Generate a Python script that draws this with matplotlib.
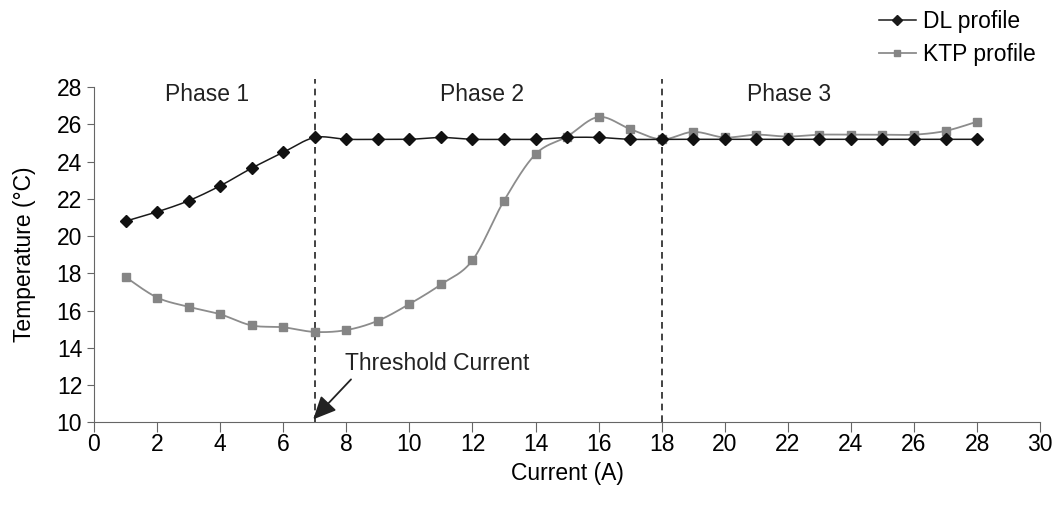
import numpy as np
import matplotlib
matplotlib.use("Agg")
import matplotlib.pyplot as plt
from matplotlib.lines import Line2D

plt.rcParams['font.family'] = ['Liberation Sans', 'DejaVu Sans']

current = np.arange(1, 29)
dl_temp = [20.8, 21.3, 21.9, 22.7, 23.65, 24.5, 25.3, 25.2, 25.2, 25.2,
           25.3, 25.2, 25.2, 25.2, 25.3, 25.3, 25.2, 25.2, 25.2, 25.2,
           25.2, 25.2, 25.2, 25.2, 25.2, 25.2, 25.2, 25.2]
ktp_temp = [17.8, 16.7, 16.2, 15.8, 15.2, 15.1, 14.85, 14.95, 15.45, 16.35,
            17.4, 18.7, 21.9, 24.4, 25.35, 26.4, 25.75, 25.2, 25.6, 25.3,
            25.45, 25.35, 25.45, 25.45, 25.45, 25.45, 25.65, 26.15]
phase_bounds = [7, 18]
phase_names = ["Phase 1", "Phase 2", "Phase 3"]
phase_label_x = [3.6, 12.3, 22.05]

FS = 16.5


def smooth(x, y, n=30):
    # Bezier smoothing through the points, like a spreadsheet "smoothed line"
    x = np.asarray(x, float)
    y = np.asarray(y, float)
    xs, ys = [], []
    for i in range(len(x) - 1):
        p0 = np.array([x[i - 1], y[i - 1]]) if i > 0 else np.array([x[i], y[i]])
        p1 = np.array([x[i], y[i]])
        p2 = np.array([x[i + 1], y[i + 1]])
        p3 = np.array([x[i + 2], y[i + 2]]) if i + 2 < len(x) else p2
        c1 = p1 + (p2 - p0) / 6
        c2 = p2 - (p3 - p1) / 6
        t = np.linspace(0, 1, n)[:, None]
        pts = ((1 - t) ** 3) * p1 + 3 * ((1 - t) ** 2) * t * c1 + 3 * (1 - t) * t ** 2 * c2 + t ** 3 * p2
        xs.extend(pts[:, 0])
        ys.extend(pts[:, 1])
    return np.array(xs), np.array(ys)


fig = plt.figure(figsize=(10.56, 5.13), dpi=100)
ax = fig.add_axes([0.089, 0.177, 0.896, 0.653])

kx, ky = smooth(current, ktp_temp)
ax.plot(kx, ky, color="#8c8c8c", lw=1.3, zorder=2)
ax.plot(current, ktp_temp, ls="none", marker="s", ms=6, color="#858585", zorder=3)

dx, dy = smooth(current, dl_temp)
ax.plot(dx, dy, color="#1a1a1a", lw=1.1, zorder=4)
ax.plot(current, dl_temp, ls="none", marker="D", ms=6, color="#111111", zorder=5)

for b in phase_bounds:
    ax.plot([b, b], [10, 28.45], color="#222222", ls=(0, (4, 3)), lw=1.2, clip_on=False, zorder=1)

for name, px in zip(phase_names, phase_label_x):
    ax.text(px, 27.6, name, ha="center", va="center", fontsize=FS, color="#222222")

ax.annotate("", xy=(6.95, 10.15), xytext=(8.15, 12.3),
            arrowprops=dict(arrowstyle="-|>,head_length=1.4,head_width=0.65",
                            color="#222222", lw=1.3, shrinkA=0, shrinkB=0))
ax.text(7.95, 13.15, "Threshold Current", ha="left", va="center", fontsize=FS, color="#222222")

ax.set_xlim(0, 30)
ax.set_ylim(10, 28)
ax.set_xticks(np.arange(0, 31, 2))
ax.set_yticks(np.arange(10, 29, 2))
ax.spines["top"].set_visible(False)
ax.spines["right"].set_visible(False)
for s in ("left", "bottom"):
    ax.spines[s].set_color("#666666")
ax.tick_params(axis="both", labelsize=FS, colors="#666666", labelcolor="black", length=5, direction="out")
ax.tick_params(axis="x", length=7, pad=1)
ax.set_xlabel("Current (A)", fontsize=FS, labelpad=4)
ax.set_ylabel("Temperature (°C)", fontsize=FS, labelpad=15)

handles = [
    Line2D([], [], color="#1a1a1a", lw=1.1, marker="D", ms=5, label="DL profile"),
    Line2D([], [], color="#8c8c8c", lw=1.3, marker="s", ms=4.5, markerfacecolor="#858585",
           markeredgecolor="#858585", label="KTP profile"),
]
fig.legend(handles=handles, loc="upper right", bbox_to_anchor=(1.0, 1.02), frameon=False,
           fontsize=FS, handlelength=1.6, handletextpad=0.3, labelspacing=0.4)

fig.savefig("out.png", dpi=100)
